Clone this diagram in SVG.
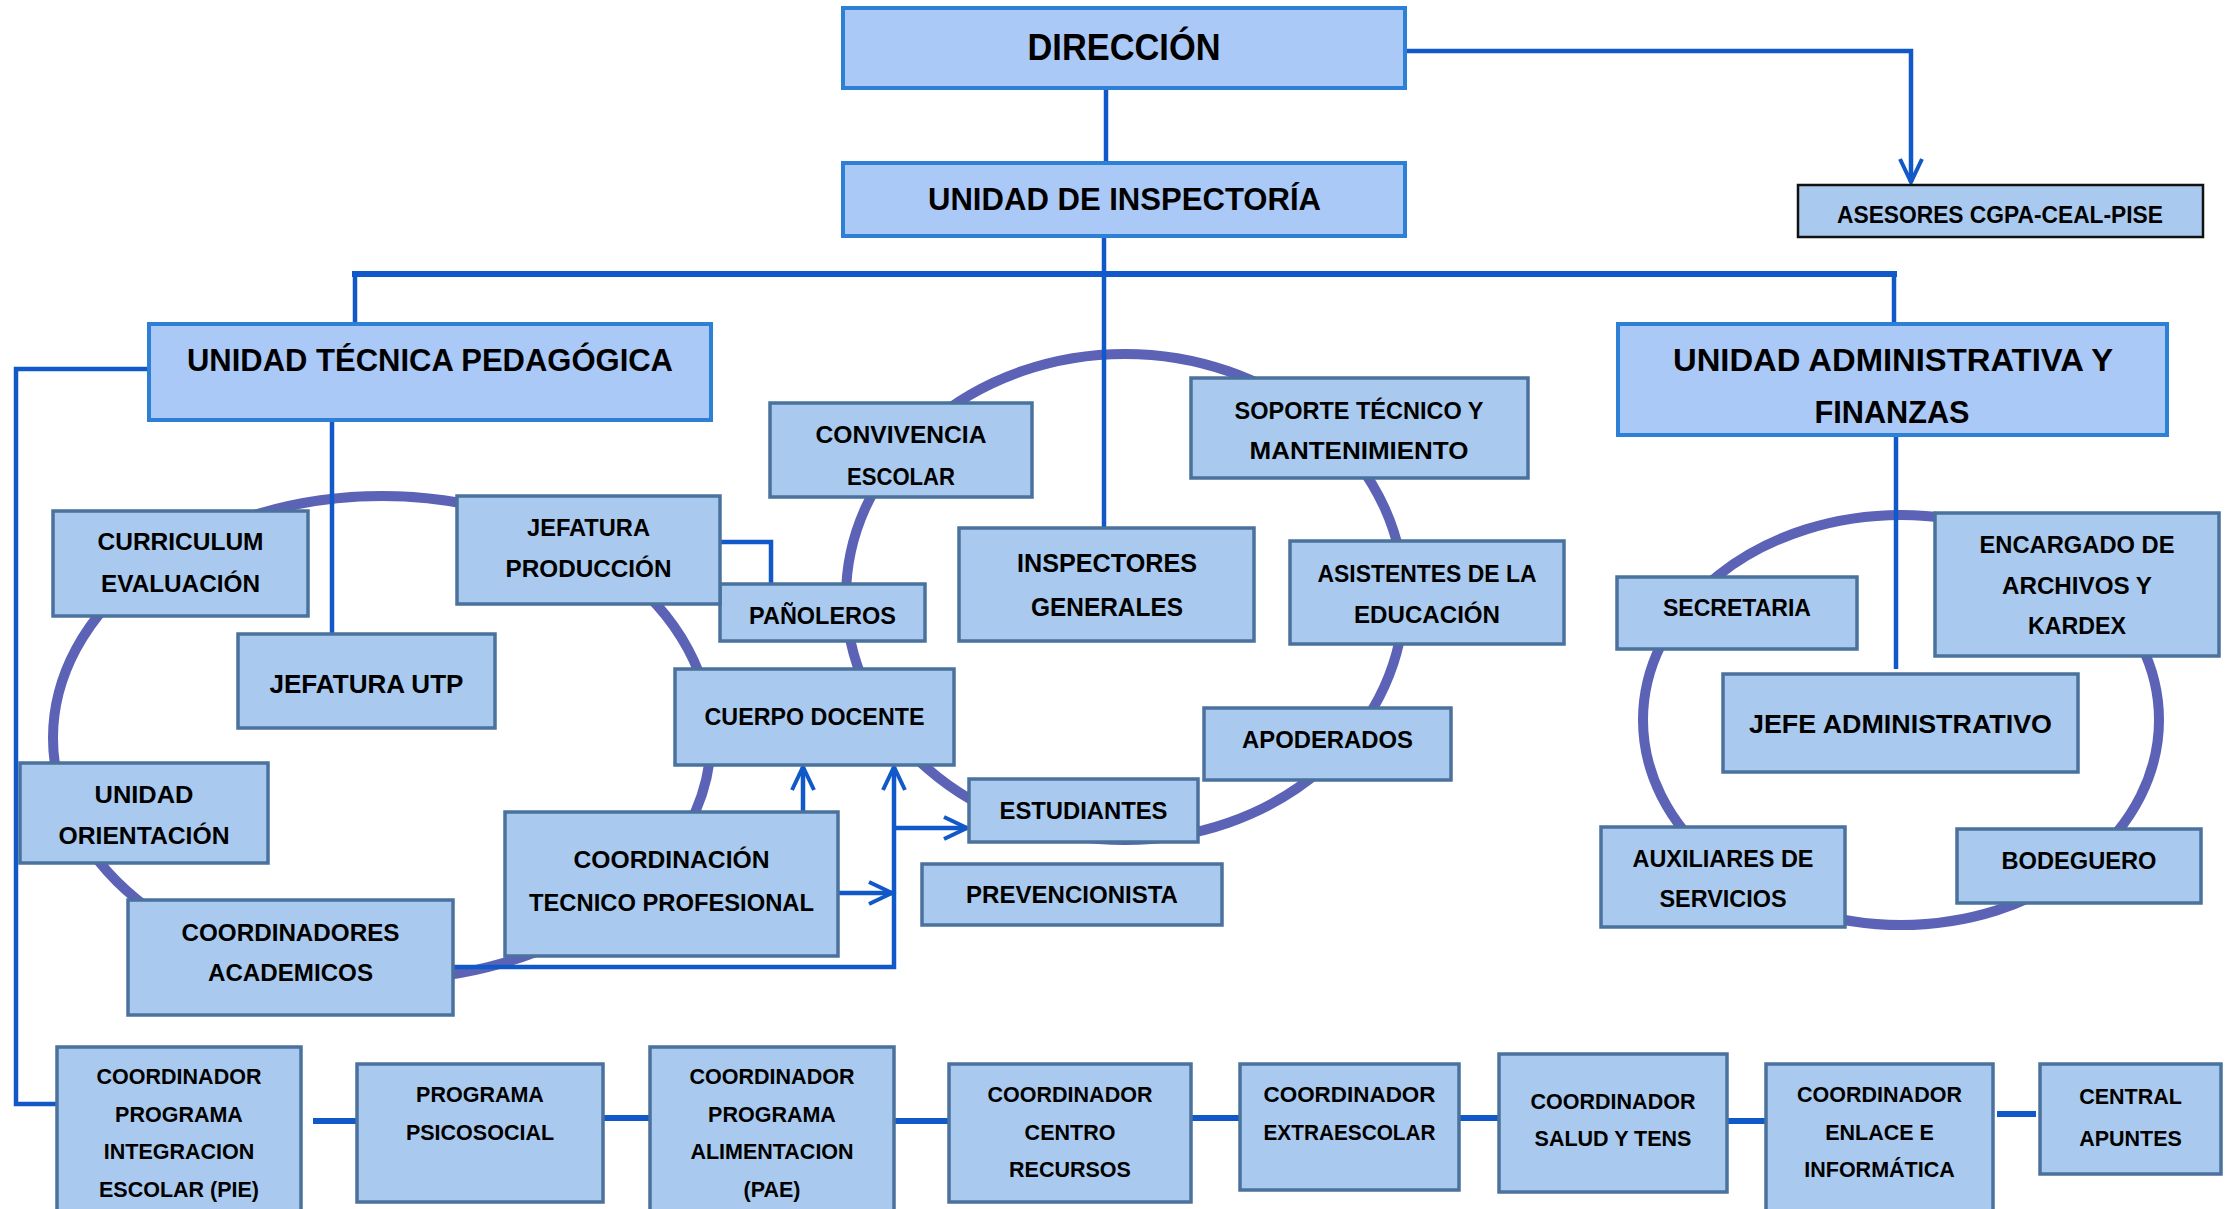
<svg xmlns="http://www.w3.org/2000/svg" width="2228" height="1209" viewBox="0 0 2228 1209">
<defs>
<style>
.ring{fill:none;stroke:#5c63b7;stroke-width:10}
.main{fill:#abc9f6;stroke:#2e7fd6;stroke-width:4}
.sec{fill:#a9caee;stroke:#4a729d;stroke-width:3.5}
.ases{fill:#a9caee;stroke:#111;stroke-width:2.5}
.ln{fill:none;stroke:#1158c8;stroke-width:4.5}
.thick{fill:none;stroke:#1158c8;stroke-width:6}
text{font-family:"Liberation Sans",Arial,sans-serif;font-weight:bold;fill:#000;text-anchor:middle}
.fd{font-size:36px}
.fm{font-size:31px}
.fs{font-size:24.5px}
.fb{font-size:26px}
.fa{font-size:24px}
.fr{font-size:21.5px}
</style>
<marker id="arr" markerUnits="userSpaceOnUse" markerWidth="32" markerHeight="32" refX="26" refY="13" orient="auto" overflow="visible">
<path d="M3,2 L26,13 L3,24" fill="none" stroke="#1158c8" stroke-width="4" stroke-linejoin="miter"/>
</marker>
</defs>
<rect width="2228" height="1209" fill="#fff"/>

<g id="rings">
<ellipse class="ring" cx="382" cy="738" rx="329" ry="242"/>
<ellipse class="ring" cx="1125" cy="597" rx="279" ry="243"/>
<ellipse class="ring" cx="1901" cy="720" rx="258" ry="205"/>
</g>

<g id="connectors">
<path class="ln" d="M1106 88 V163"/>
<path class="ln" d="M1407 51 H1911 V182" marker-end="url(#arr)"/>
<path class="ln" d="M1104 236 V528"/>
<path class="thick" d="M352 274 H1897"/>
<path class="ln" d="M355 272 V322"/>
<path class="ln" d="M1894 272 V322"/>
<path class="ln" d="M149 369 H16 V1104 H65"/>
<path class="ln" d="M332 420 V634"/>
<path class="ln" d="M1896 435 V669"/>
<path class="ln" d="M720 542 H771 V584"/>
<path class="ln" d="M803 812 V767" marker-end="url(#arr)"/>
<path class="ln" d="M453 967 H894 V767" marker-end="url(#arr)"/>
<path class="ln" d="M894 828 H967" marker-end="url(#arr)"/>
<path class="ln" d="M838 893 H892" marker-end="url(#arr)"/>
<path class="thick" d="M313 1121 H357"/>
<path class="thick" d="M603 1118 H650"/>
<path class="thick" d="M894 1121 H956"/>
<path class="thick" d="M1191 1118 H1240"/>
<path class="thick" d="M1452 1118 H1499"/>
<path class="thick" d="M1716 1121 H1766"/>
<path class="thick" d="M1997 1114 H2036"/>
</g>

<g id="n-direccion"><rect class="main" x="843" y="8" width="562" height="80"/><text class="fd" x="1124" y="60" textLength="193" lengthAdjust="spacingAndGlyphs">DIRECCIÓN</text></g>
<g id="n-inspectoria"><rect class="main" x="843" y="163" width="562" height="73"/><text class="fm" x="1124.5" y="210" textLength="393" lengthAdjust="spacingAndGlyphs">UNIDAD DE INSPECTORÍA</text></g>
<g id="n-asesores"><rect class="ases" x="1798" y="185" width="405" height="52"/><text class="fa" x="2000" y="223" textLength="326" lengthAdjust="spacingAndGlyphs">ASESORES CGPA-CEAL-PISE</text></g>
<g id="n-utp"><rect class="main" x="149" y="324" width="562" height="96"/><text class="fm" x="430" y="371" textLength="486" lengthAdjust="spacingAndGlyphs">UNIDAD TÉCNICA PEDAGÓGICA</text></g>
<g id="n-admin"><rect class="main" x="1618" y="324" width="549" height="111"/><text class="fm" x="1893" y="371" textLength="440" lengthAdjust="spacingAndGlyphs">UNIDAD ADMINISTRATIVA Y</text><text class="fm" x="1892" y="423" textLength="155" lengthAdjust="spacingAndGlyphs">FINANZAS</text></g>

<g id="n-convivencia"><rect class="sec" x="770" y="403" width="262" height="94"/><text class="fs" x="901" y="443" textLength="171" lengthAdjust="spacingAndGlyphs">CONVIVENCIA</text><text class="fs" x="901" y="485" textLength="108" lengthAdjust="spacingAndGlyphs">ESCOLAR</text></g>
<g id="n-soporte"><rect class="sec" x="1191" y="378" width="337" height="100"/><text class="fs" x="1359" y="419" textLength="249" lengthAdjust="spacingAndGlyphs">SOPORTE TÉCNICO Y</text><text class="fs" x="1359" y="459" textLength="219" lengthAdjust="spacingAndGlyphs">MANTENIMIENTO</text></g>
<g id="n-inspectores"><rect class="sec" x="959" y="528" width="295" height="113"/><text class="fb" x="1107" y="572" textLength="180" lengthAdjust="spacingAndGlyphs">INSPECTORES</text><text class="fb" x="1107" y="616" textLength="152" lengthAdjust="spacingAndGlyphs">GENERALES</text></g>
<g id="n-asistentes"><rect class="sec" x="1290" y="541" width="274" height="103"/><text class="fs" x="1427" y="582" textLength="219" lengthAdjust="spacingAndGlyphs">ASISTENTES DE LA</text><text class="fs" x="1427" y="623" textLength="146" lengthAdjust="spacingAndGlyphs">EDUCACIÓN</text></g>
<g id="n-panoleros"><rect class="sec" x="720" y="584" width="205" height="57"/><text class="fs" x="822.5" y="624" textLength="147" lengthAdjust="spacingAndGlyphs">PAÑOLEROS</text></g>
<g id="n-docente"><rect class="sec" x="675" y="669" width="279" height="96"/><text class="fs" x="814.5" y="725" textLength="220" lengthAdjust="spacingAndGlyphs">CUERPO DOCENTE</text></g>
<g id="n-apoderados"><rect class="sec" x="1204" y="708" width="247" height="72"/><text class="fs" x="1327.5" y="748" textLength="171" lengthAdjust="spacingAndGlyphs">APODERADOS</text></g>
<g id="n-estudiantes"><rect class="sec" x="969" y="779" width="229" height="63"/><text class="fs" x="1083.5" y="819" textLength="168" lengthAdjust="spacingAndGlyphs">ESTUDIANTES</text></g>
<g id="n-prevencionista"><rect class="sec" x="922" y="864" width="300" height="61"/><text class="fs" x="1072" y="903" textLength="212" lengthAdjust="spacingAndGlyphs">PREVENCIONISTA</text></g>

<g id="n-curriculum"><rect class="sec" x="53" y="511" width="255" height="105"/><text class="fs" x="180.5" y="550" textLength="166" lengthAdjust="spacingAndGlyphs">CURRICULUM</text><text class="fs" x="180.5" y="592" textLength="159" lengthAdjust="spacingAndGlyphs">EVALUACIÓN</text></g>
<g id="n-produccion"><rect class="sec" x="457" y="496" width="263" height="108"/><text class="fs" x="588.5" y="536" textLength="123" lengthAdjust="spacingAndGlyphs">JEFATURA</text><text class="fs" x="588.5" y="577" textLength="166" lengthAdjust="spacingAndGlyphs">PRODUCCIÓN</text></g>
<g id="n-jefatura-utp"><rect class="sec" x="238" y="634" width="257" height="94"/><text class="fb" x="366.5" y="693" textLength="194" lengthAdjust="spacingAndGlyphs">JEFATURA UTP</text></g>
<g id="n-orientacion"><rect class="sec" x="20" y="763" width="248" height="100"/><text class="fs" x="144" y="803" textLength="99" lengthAdjust="spacingAndGlyphs">UNIDAD</text><text class="fs" x="144" y="844" textLength="171" lengthAdjust="spacingAndGlyphs">ORIENTACIÓN</text></g>
<g id="n-coord-tp"><rect class="sec" x="505" y="812" width="333" height="144"/><text class="fs" x="671.5" y="868" textLength="196" lengthAdjust="spacingAndGlyphs">COORDINACIÓN</text><text class="fs" x="671.5" y="911" textLength="285" lengthAdjust="spacingAndGlyphs">TECNICO PROFESIONAL</text></g>
<g id="n-coord-acad"><rect class="sec" x="128" y="900" width="325" height="115"/><text class="fs" x="290.5" y="941" textLength="218" lengthAdjust="spacingAndGlyphs">COORDINADORES</text><text class="fs" x="290.5" y="981" textLength="165" lengthAdjust="spacingAndGlyphs">ACADEMICOS</text></g>

<g id="n-secretaria"><rect class="sec" x="1617" y="577" width="240" height="72"/><text class="fs" x="1737" y="616" textLength="148" lengthAdjust="spacingAndGlyphs">SECRETARIA</text></g>
<g id="n-encargado"><rect class="sec" x="1935" y="513" width="284" height="143"/><text class="fs" x="2077" y="553" textLength="195" lengthAdjust="spacingAndGlyphs">ENCARGADO DE</text><text class="fs" x="2077" y="594" textLength="150" lengthAdjust="spacingAndGlyphs">ARCHIVOS Y</text><text class="fs" x="2077" y="634" textLength="98" lengthAdjust="spacingAndGlyphs">KARDEX</text></g>
<g id="n-jefe-admin"><rect class="sec" x="1723" y="674" width="355" height="98"/><text class="fb" x="1900.5" y="733" textLength="303" lengthAdjust="spacingAndGlyphs">JEFE ADMINISTRATIVO</text></g>
<g id="n-auxiliares"><rect class="sec" x="1601" y="827" width="244" height="100"/><text class="fs" x="1723" y="867" textLength="181" lengthAdjust="spacingAndGlyphs">AUXILIARES DE</text><text class="fs" x="1723" y="907" textLength="127" lengthAdjust="spacingAndGlyphs">SERVICIOS</text></g>
<g id="n-bodeguero"><rect class="sec" x="1957" y="829" width="244" height="74"/><text class="fs" x="2079" y="869" textLength="155" lengthAdjust="spacingAndGlyphs">BODEGUERO</text></g>

<g id="n-pie"><rect class="sec" x="57" y="1047" width="244" height="170"/><text class="fr" x="179" y="1084">COORDINADOR</text><text class="fr" x="179" y="1122">PROGRAMA</text><text class="fr" x="179" y="1159">INTEGRACION</text><text class="fr" x="179" y="1197">ESCOLAR (PIE)</text></g>
<g id="n-psicosocial"><rect class="sec" x="357" y="1064" width="246" height="138"/><text class="fr" x="480" y="1102">PROGRAMA</text><text class="fr" x="480" y="1140">PSICOSOCIAL</text></g>
<g id="n-pae"><rect class="sec" x="650" y="1047" width="244" height="170"/><text class="fr" x="772" y="1084">COORDINADOR</text><text class="fr" x="772" y="1122">PROGRAMA</text><text class="fr" x="772" y="1159">ALIMENTACION</text><text class="fr" x="772" y="1197">(PAE)</text></g>
<g id="n-centro"><rect class="sec" x="949" y="1064" width="242" height="138"/><text class="fr" x="1070" y="1102">COORDINADOR</text><text class="fr" x="1070" y="1140">CENTRO</text><text class="fr" x="1070" y="1177">RECURSOS</text></g>
<g id="n-extraescolar"><rect class="sec" x="1240" y="1064" width="219" height="126"/><text class="fr" x="1349.5" y="1102" textLength="172" lengthAdjust="spacingAndGlyphs">COORDINADOR</text><text class="fr" x="1349.5" y="1140" textLength="172" lengthAdjust="spacingAndGlyphs">EXTRAESCOLAR</text></g>
<g id="n-salud"><rect class="sec" x="1499" y="1054" width="228" height="138"/><text class="fr" x="1613" y="1109">COORDINADOR</text><text class="fr" x="1613" y="1146">SALUD Y TENS</text></g>
<g id="n-enlace"><rect class="sec" x="1766" y="1064" width="227" height="153"/><text class="fr" x="1879.5" y="1102">COORDINADOR</text><text class="fr" x="1879.5" y="1140">ENLACE E</text><text class="fr" x="1879.5" y="1177">INFORMÁTICA</text></g>
<g id="n-central"><rect class="sec" x="2040" y="1064" width="181" height="110"/><text class="fr" x="2130.5" y="1104">CENTRAL</text><text class="fr" x="2130.5" y="1146">APUNTES</text></g>
</svg>
